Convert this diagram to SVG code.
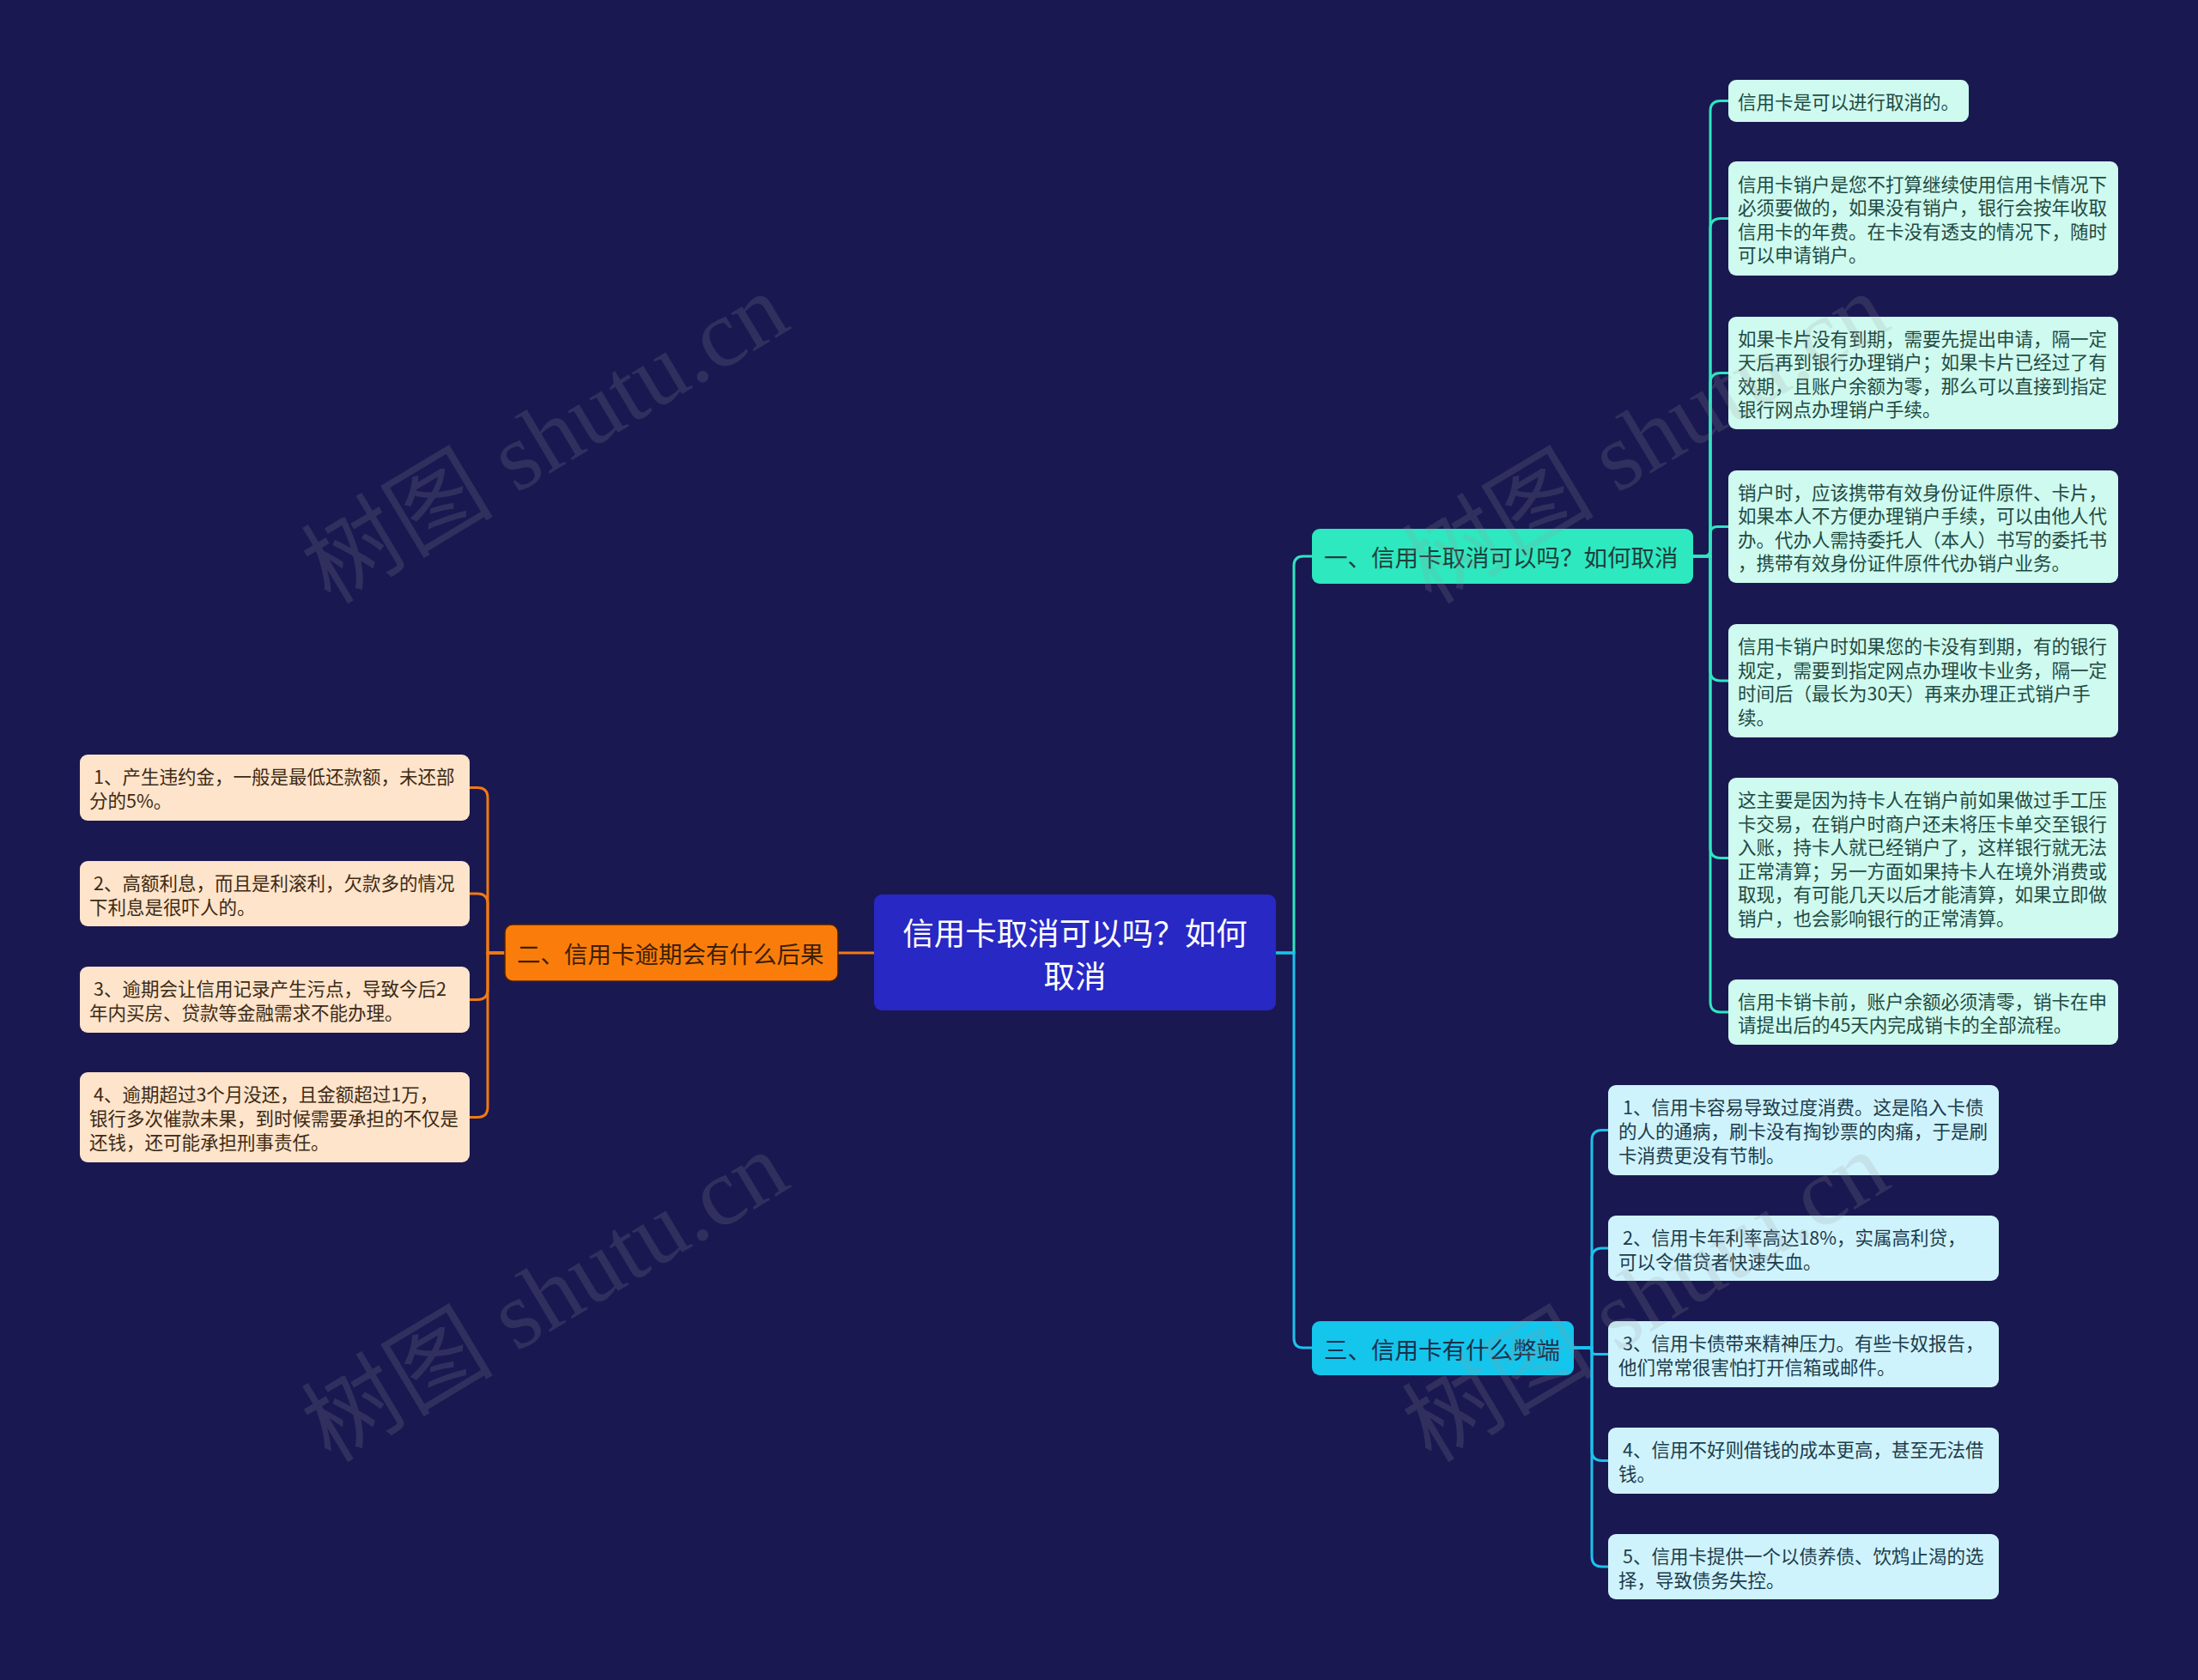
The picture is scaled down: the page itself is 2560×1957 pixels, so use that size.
<svg xmlns="http://www.w3.org/2000/svg" width="2560" height="1957" viewBox="0 0 2560 1957">
<style>
text{font-family:"Noto Sans CJK SC","Noto Sans",sans-serif;dominant-baseline:central}
.wm{font-family:"Liberation Serif","Noto Sans CJK SC",serif;font-size:112px;fill:#9a9a9a;opacity:0.18;dominant-baseline:auto}
.cT{fill:none;stroke:#2ee6c0;stroke-width:3}
.cB{fill:none;stroke:#1cc2ee;stroke-width:3}
.cL{fill:none;stroke:#f07a14;stroke-width:3}
.lt{fill:#cffaef}
.lb{fill:#cff3fc}
.ll{fill:#fde4cb}
.tt{font-size:21.5px;fill:#1f4a42}
.tb{font-size:21.5px;fill:#1c3c4c}
.tl{font-size:21.5px;fill:#3e2a14}
.sub{font-size:27.5px}
</style>
<rect width="2560" height="1957" fill="#1a1851"/>

<g id="connectors">
<line class="cL" x1="1018" y1="1110" x2="976" y2="1110"/>
<path class="cT" d="M1486,1110 H1507 V659 Q1507,648 1518,648 H1528"/>
<path class="cB" d="M1486,1110 H1507 V1559 Q1507,1570 1518,1570 H1528"/>
<path class="cT" d="M1972,648 H1992 V129.5 Q1992,117.5 2004,117.5 H2013"/>
<path class="cT" d="M1972,648 H1992 V266.5 Q1992,254.5 2004,254.5 H2013"/>
<path class="cT" d="M1972,648 H1992 V446.5 Q1992,434.5 2004,434.5 H2013"/>
<path class="cT" d="M1972,648 H1984 Q1992,648 1992,640 V621.5 Q1992,613.5 2000,613.5 H2013"/>
<path class="cT" d="M1972,648 H1992 V781 Q1992,793 2004,793 H2013"/>
<path class="cT" d="M1972,648 H1992 V987.5 Q1992,999.5 2004,999.5 H2013"/>
<path class="cT" d="M1972,648 H1992 V1167 Q1992,1179 2004,1179 H2013"/>
<path class="cB" d="M1833,1570 H1854 V1328.5 Q1854,1316.5 1866,1316.5 H1873"/>
<path class="cB" d="M1833,1570 H1854 V1466 Q1854,1454 1866,1454 H1873"/>
<path class="cB" d="M1833,1570 H1850 Q1854,1570 1854,1574 Q1854,1577.5 1858,1577.5 H1873"/>
<path class="cB" d="M1833,1570 H1854 V1689.5 Q1854,1701.5 1866,1701.5 H1873"/>
<path class="cB" d="M1833,1570 H1854 V1813 Q1854,1825 1866,1825 H1873"/>
<path class="cL" d="M588,1110 H568 V929.5 Q568,917.5 556,917.5 H547"/>
<path class="cL" d="M588,1110 H568 V1053 Q568,1041 556,1041 H547"/>
<path class="cL" d="M588,1110 H568 V1152.5 Q568,1164.5 556,1164.5 H547"/>
<path class="cL" d="M588,1110 H568 V1289.5 Q568,1301.5 556,1301.5 H547"/>
</g>

<g id="center">
<rect x="1018" y="1042" width="468" height="135" rx="9" fill="#2828c4"/>
<text x="1252" y="1085" font-size="36.5" fill="#ffffff" text-anchor="middle">信用卡取消可以吗？如何</text>
<text x="1252" y="1135" font-size="36.5" fill="#ffffff" text-anchor="middle">取消</text>
</g>

<g id="n1">
<rect x="1528" y="616" width="444" height="64" rx="9" fill="#2ee8bf"/>
<text class="sub" x="1542" y="648" fill="#1e3f3c">一、信用卡取消可以吗？如何取消</text>
</g>
<g id="n2">
<rect x="588" y="1077" width="388" height="66" rx="9" fill="#fa7d0b" stroke="#4a2006" stroke-width="1.5"/>
<text class="sub" x="602" y="1110" fill="#3d1f05">二、信用卡逾期会有什么后果</text>
</g>
<g id="n3">
<rect x="1528" y="1539" width="305" height="63" rx="9" fill="#14c5ec"/>
<text class="sub" x="1542" y="1570.5" fill="#1b2f4a">三、信用卡有什么弊端</text>
</g>

<g id="t1">
<rect class="lt" x="2013" y="93" width="280" height="49" rx="9"/>
<text class="tt" x="2024" y="117.5">信用卡是可以进行取消的。</text>
</g>
<g id="t2">
<rect class="lt" x="2013" y="188" width="454" height="133" rx="9"/>
<text class="tt" x="2024" y="213.3">信用卡销户是您不打算继续使用信用卡情况下</text>
<text class="tt" x="2024" y="240.8">必须要做的，如果没有销户，银行会按年收取</text>
<text class="tt" x="2024" y="268.3">信用卡的年费。在卡没有透支的情况下，随时</text>
<text class="tt" x="2024" y="295.8">可以申请销户。</text>
</g>
<g id="t3">
<rect class="lt" x="2013" y="369" width="454" height="131" rx="9"/>
<text class="tt" x="2024" y="393.3">如果卡片没有到期，需要先提出申请，隔一定</text>
<text class="tt" x="2024" y="420.8">天后再到银行办理销户；如果卡片已经过了有</text>
<text class="tt" x="2024" y="448.3">效期，且账户余额为零，那么可以直接到指定</text>
<text class="tt" x="2024" y="475.8">银行网点办理销户手续。</text>
</g>
<g id="t4">
<rect class="lt" x="2013" y="548" width="454" height="131" rx="9"/>
<text class="tt" x="2024" y="572.3">销户时，应该携带有效身份证件原件、卡片，</text>
<text class="tt" x="2024" y="599.8">如果本人不方便办理销户手续，可以由他人代</text>
<text class="tt" x="2024" y="627.3">办。代办人需持委托人（本人）书写的委托书</text>
<text class="tt" x="2024" y="654.8">，携带有效身份证件原件代办销户业务。</text>
</g>
<g id="t5">
<rect class="lt" x="2013" y="727" width="454" height="132" rx="9"/>
<text class="tt" x="2024" y="751.8">信用卡销户时如果您的卡没有到期，有的银行</text>
<text class="tt" x="2024" y="779.3">规定，需要到指定网点办理收卡业务，隔一定</text>
<text class="tt" x="2024" y="806.8">时间后（最长为30天）再来办理正式销户手</text>
<text class="tt" x="2024" y="834.3">续。</text>
</g>
<g id="t6">
<rect class="lt" x="2013" y="906" width="454" height="187" rx="9"/>
<text class="tt" x="2024" y="930.5">这主要是因为持卡人在销户前如果做过手工压</text>
<text class="tt" x="2024" y="958.1">卡交易，在销户时商户还未将压卡单交至银行</text>
<text class="tt" x="2024" y="985.7">入账，持卡人就已经销户了，这样银行就无法</text>
<text class="tt" x="2024" y="1013.3">正常清算；另一方面如果持卡人在境外消费或</text>
<text class="tt" x="2024" y="1040.9">取现，有可能几天以后才能清算，如果立即做</text>
<text class="tt" x="2024" y="1068.5">销户，也会影响银行的正常清算。</text>
</g>
<g id="t7">
<rect class="lt" x="2013" y="1141" width="454" height="76" rx="9"/>
<text class="tt" x="2024" y="1165.2">信用卡销卡前，账户余额必须清零，销卡在申</text>
<text class="tt" x="2024" y="1192.8">请提出后的45天内完成销卡的全部流程。</text>
</g>

<g id="b1">
<rect class="lb" x="1873" y="1264" width="455" height="105" rx="9"/>
<text class="tb" x="1890" y="1288.5">1、信用卡容易导致过度消费。这是陷入卡债</text>
<text class="tb" x="1885" y="1316.5">的人的通病，刷卡没有掏钞票的肉痛，于是刷</text>
<text class="tb" x="1885" y="1344.5">卡消费更没有节制。</text>
</g>
<g id="b2">
<rect class="lb" x="1873" y="1416" width="455" height="76" rx="9"/>
<text class="tb" x="1890" y="1440">2、信用卡年利率高达18%，实属高利贷，</text>
<text class="tb" x="1885" y="1468">可以令借贷者快速失血。</text>
</g>
<g id="b3">
<rect class="lb" x="1873" y="1539" width="455" height="77" rx="9"/>
<text class="tb" x="1890" y="1563.5">3、信用卡债带来精神压力。有些卡奴报告，</text>
<text class="tb" x="1885" y="1591.5">他们常常很害怕打开信箱或邮件。</text>
</g>
<g id="b4">
<rect class="lb" x="1873" y="1663" width="455" height="77" rx="9"/>
<text class="tb" x="1890" y="1687.5">4、信用不好则借钱的成本更高，甚至无法借</text>
<text class="tb" x="1885" y="1715.5">钱。</text>
</g>
<g id="b5">
<rect class="lb" x="1873" y="1787" width="455" height="76" rx="9"/>
<text class="tb" x="1890" y="1811">5、信用卡提供一个以债养债、饮鸩止渴的选</text>
<text class="tb" x="1885" y="1839">择，导致债务失控。</text>
</g>

<g id="l1">
<rect class="ll" x="93" y="879" width="454" height="77" rx="9"/>
<text class="tl" x="109" y="903.5">1、产生违约金，一般是最低还款额，未还部</text>
<text class="tl" x="104" y="931.5">分的5%。</text>
</g>
<g id="l2">
<rect class="ll" x="93" y="1003" width="454" height="76" rx="9"/>
<text class="tl" x="109" y="1027">2、高额利息，而且是利滚利，欠款多的情况</text>
<text class="tl" x="104" y="1055">下利息是很吓人的。</text>
</g>
<g id="l3">
<rect class="ll" x="93" y="1126" width="454" height="77" rx="9"/>
<text class="tl" x="109" y="1150.5">3、逾期会让信用记录产生污点，导致今后2</text>
<text class="tl" x="104" y="1178.5">年内买房、贷款等金融需求不能办理。</text>
</g>
<g id="l4">
<rect class="ll" x="93" y="1249" width="454" height="105" rx="9"/>
<text class="tl" x="109" y="1273.5">4、逾期超过3个月没还，且金额超过1万，</text>
<text class="tl" x="104" y="1301.5">银行多次催款未果，到时候需要承担的不仅是</text>
<text class="tl" x="104" y="1329.5">还钱，还可能承担刑事责任。</text>
</g>

<g id="watermark">
<text class="wm" transform="translate(385,705) rotate(-31)">树图 shutu.cn</text>
<text class="wm" transform="translate(385,1705) rotate(-31)">树图 shutu.cn</text>
<text class="wm" transform="translate(1667,705) rotate(-31)">树图 shutu.cn</text>
<text class="wm" transform="translate(1667,1705) rotate(-31)">树图 shutu.cn</text>
</g>
</svg>
